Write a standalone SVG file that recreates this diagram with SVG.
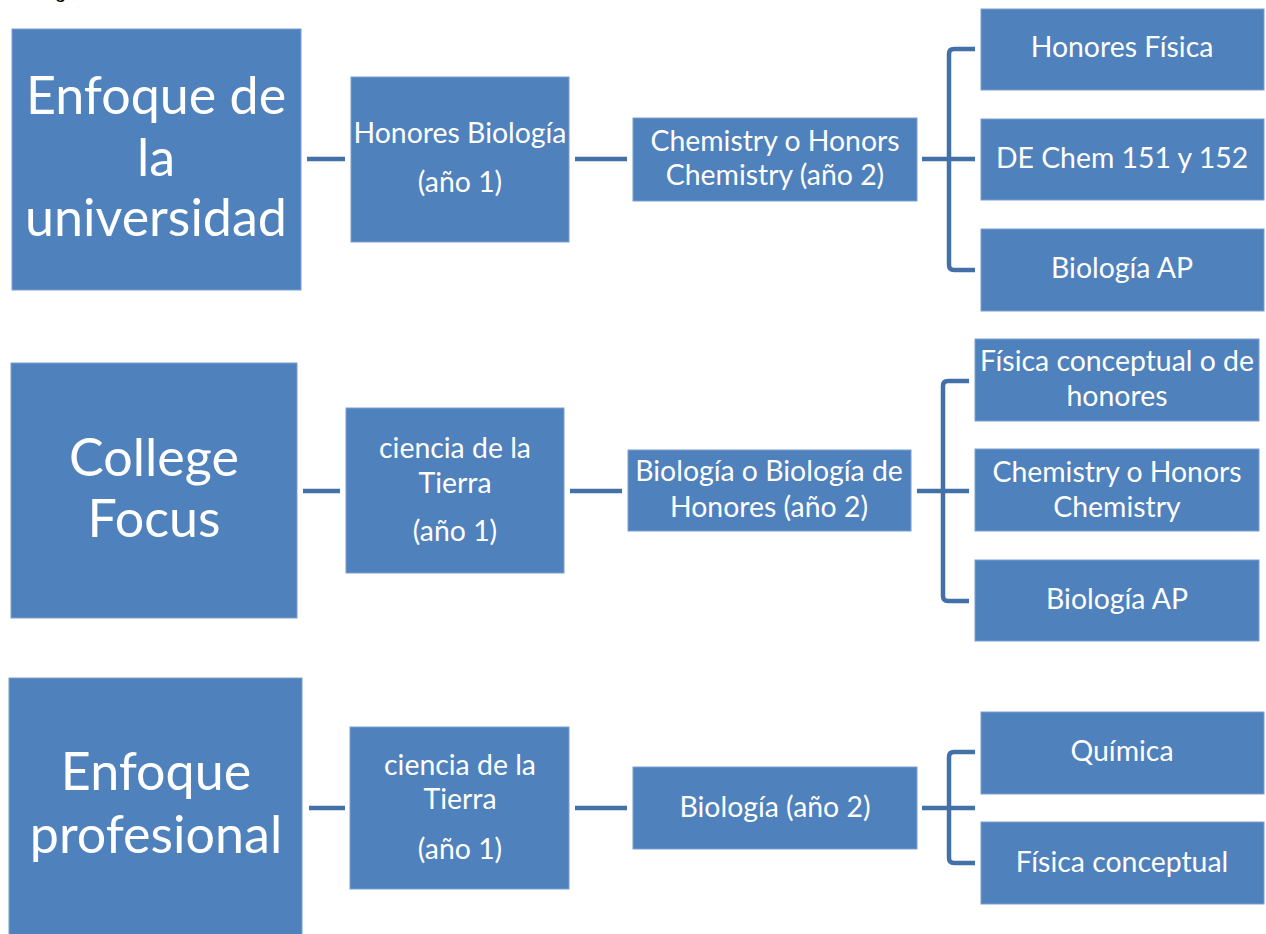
<svg xmlns="http://www.w3.org/2000/svg" width="1266" height="934" viewBox="0 0 1266 934">
<style>
.box{fill:#4F81BD;stroke:#7C9FCF;stroke-width:1}
.t{font-family:Lato,"Noto Sans",sans-serif;fill:#FFFFFF;text-anchor:middle;font-size:28.4px}
.big{font-size:52px}
.ln{fill:none;stroke:#4470A8;stroke-width:4.5;stroke-linejoin:round}
</style>
<rect width="1266" height="934" fill="#FFFFFF"/>
<text x="55" y="-2" style="font-family:'Liberation Sans',sans-serif;font-size:20px;fill:#000">g</text>
<g id="connectors">
<path class="ln" d="M307 159H345"/>
<path class="ln" d="M575 159H627"/>
<path class="ln" d="M922 159H975M975 49H954Q949 49 949 54V265Q949 270 954 270H975"/>
<path class="ln" d="M303 491H340"/>
<path class="ln" d="M570 491H622"/>
<path class="ln" d="M917 491H969M969 381H948Q943 381 943 386V596Q943 601 948 601H969"/>
<path class="ln" d="M309 808H345"/>
<path class="ln" d="M575 808H627"/>
<path class="ln" d="M922 808H975M975 752H954Q949 752 949 757V858Q949 863 954 863H975"/>
</g>
<g id="n-enfoque-universidad"><rect class="box" x="12" y="29" width="289" height="261"/><text class="t big"><tspan x="156" y="114">Enfoque de</tspan><tspan x="156" y="176">la</tspan><tspan x="156" y="236">universidad</tspan></text></g>
<g id="n-honores-biologia"><rect class="box" x="351" y="77" width="218" height="165"/><text class="t"><tspan x="460" y="143">Honores Biología</tspan><tspan x="460" y="192">(año 1)</tspan></text></g>
<g id="n-chem-anio2"><rect class="box" x="633" y="118" width="284" height="83"/><text class="t"><tspan x="775" y="151">Chemistry o Honors</tspan><tspan x="775" y="185">Chemistry (año 2)</tspan></text></g>
<g id="n-honores-fisica"><rect class="box" x="981" y="9" width="283" height="81"/><text class="t" x="1122" y="57">Honores Física</text></g>
<g id="n-de-chem"><rect class="box" x="981" y="119" width="283" height="81"/><text class="t" x="1122" y="168">DE Chem 151 y 152</text></g>
<g id="n-bio-ap-1"><rect class="box" x="981" y="229" width="283" height="82"/><text class="t" x="1122" y="278">Biología AP</text></g>

<g id="n-college-focus"><rect class="box" x="11" y="363" width="286" height="255"/><text class="t big"><tspan x="154" y="476">College</tspan><tspan x="154" y="537">Focus</tspan></text></g>
<g id="n-ciencia-tierra-2"><rect class="box" x="346" y="408" width="218" height="165"/><text class="t"><tspan x="455" y="458">ciencia de la</tspan><tspan x="455" y="493">Tierra</tspan><tspan x="455" y="541">(año 1)</tspan></text></g>
<g id="n-bio-honores"><rect class="box" x="628" y="450" width="283" height="81"/><text class="t"><tspan x="769" y="481">Biología o Biología de</tspan><tspan x="769" y="517">Honores (año 2)</tspan></text></g>
<g id="n-fisica-conceptual-honores"><rect class="box" x="975" y="339" width="284" height="82"/><text class="t"><tspan x="1117" y="371">Física conceptual o de</tspan><tspan x="1117" y="406">honores</tspan></text></g>
<g id="n-chem-honors"><rect class="box" x="975" y="449" width="284" height="82"/><text class="t"><tspan x="1117" y="482">Chemistry o Honors</tspan><tspan x="1117" y="517">Chemistry</tspan></text></g>
<g id="n-bio-ap-2"><rect class="box" x="975" y="560" width="284" height="81"/><text class="t" x="1117" y="609">Biología AP</text></g>

<g id="n-enfoque-profesional"><rect class="box" x="9" y="678" width="293" height="260"/><text class="t big"><tspan x="156" y="790">Enfoque</tspan><tspan x="156" y="853">profesional</tspan></text></g>
<g id="n-ciencia-tierra-3"><rect class="box" x="350" y="727" width="219" height="162"/><text class="t"><tspan x="460" y="775">ciencia de la</tspan><tspan x="460" y="809">Tierra</tspan><tspan x="460" y="859">(año 1)</tspan></text></g>
<g id="n-biologia-anio2"><rect class="box" x="633" y="767" width="284" height="82"/><text class="t" x="775" y="817">Biología (año 2)</text></g>
<g id="n-quimica"><rect class="box" x="981" y="712" width="283" height="82"/><text class="t" x="1122" y="761">Química</text></g>
<g id="n-fisica-conceptual"><rect class="box" x="981" y="822" width="283" height="82"/><text class="t" x="1122" y="872">Física conceptual</text></g>
</svg>
